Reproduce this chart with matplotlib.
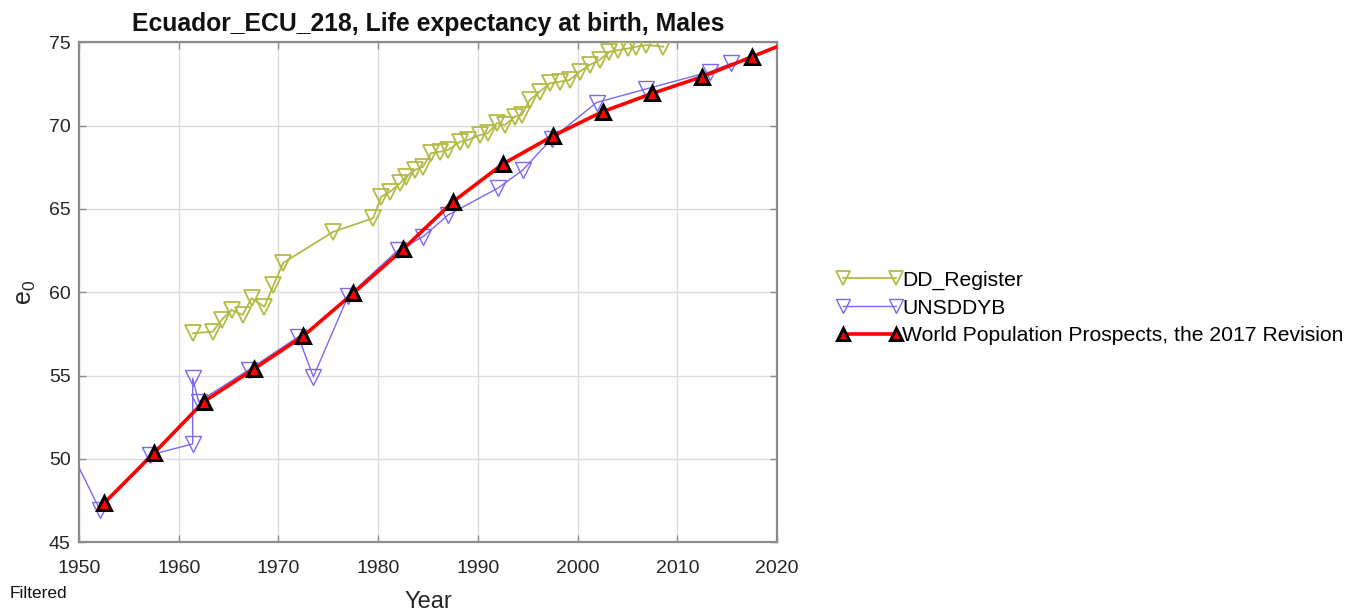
import matplotlib
matplotlib.use("Agg")
import matplotlib.pyplot as plt
import numpy as np

plt.rcParams['font.family'] = ['Liberation Sans', 'DejaVu Sans']

# ---- data ----
wpp_years = [1952.5, 1957.5, 1962.5, 1967.5, 1972.5, 1977.5, 1982.5, 1987.5,
             1992.5, 1997.5, 2002.5, 2007.5, 2012.5, 2017.5, 2022.5]
wpp_e0 = [47.34, 50.34, 53.43, 55.38, 57.38, 59.94, 62.58, 65.43,
          67.69, 69.37, 70.83, 71.93, 72.93, 74.13, 75.33]

uns_years = [1948.5, 1952.1, 1957.1, 1961.4, 1961.4, 1962.0, 1967.0, 1972.0,
             1973.5, 1977.0, 1982.0, 1984.5, 1987.0, 1992.0, 1994.5, 1997.4,
             2001.9, 2006.9, 2013.3, 2015.4]
uns_e0 = [51.3, 46.94, 50.24, 50.9, 54.84, 53.43, 55.34, 57.33,
          54.93, 59.78, 62.53, 63.33, 64.63, 66.24, 67.33, 69.2,
          71.38, 72.2, 73.23, 73.73]

dd_years = [1961.4, 1963.4, 1964.3, 1965.3, 1966.4, 1967.3, 1968.6, 1969.5,
            1970.5, 1975.5, 1979.5, 1980.3, 1981.2, 1982.2, 1982.8, 1983.7,
            1984.5, 1985.3, 1986.2, 1987.0, 1988.2, 1989.0, 1990.2, 1991.0,
            1991.9, 1992.7, 1993.7, 1994.4, 1995.2, 1996.2, 1997.2, 1998.2,
            1999.2, 2000.2, 2001.2, 2002.2, 2003.2, 2004.1, 2005.1, 2005.9,
            2006.9, 2008.6]
dd_e0 = [57.54, 57.63, 58.34, 58.94, 58.64, 59.64, 59.13, 60.43,
         61.77, 63.63, 64.44, 65.73, 66.03, 66.54, 66.93, 67.34,
         67.53, 68.34, 68.43, 68.53, 69.03, 69.13, 69.43, 69.54,
         70.14, 70.03, 70.53, 70.63, 71.53, 72.03, 72.53, 72.63,
         72.73, 73.23, 73.63, 73.93, 74.43, 74.53, 74.63, 74.73,
         74.83, 74.73]

x_ticks = [1950, 1960, 1970, 1980, 1990, 2000, 2010, 2020]
y_ticks = [45, 50, 55, 60, 65, 70, 75]

labels = ['DD_Register', 'UNSDDYB', 'World Population Prospects, the 2017 Revision']
title = 'Ecuador_ECU_218, Life expectancy at birth, Males'

# ---- figure ----
W, H = 1364, 616
fig = plt.figure(figsize=(W / 100, H / 100), dpi=100)
ax = fig.add_axes([79 / W, 1 - 542.3 / H, (777 - 79) / W, (542.3 - 42.2) / H])

dd_col = '#b3bb45'
uns_col = '#7b68ee'

l1, = ax.plot(dd_years, dd_e0, color=dd_col, lw=1.3, marker='v', ms=12,
              mfc='none', mec=dd_col, mew=1.3, clip_on=True, zorder=3)
l2, = ax.plot(uns_years, uns_e0, color=uns_col, lw=1.0, marker='v', ms=12,
              mfc='none', mec=uns_col, mew=1.0, clip_on=True, zorder=4)
l3, = ax.plot(wpp_years, wpp_e0, color='#ff0000', lw=2.6, marker='^', ms=9.5,
              mfc='#ff0000', mec='black', mew=2.2, clip_on=True, zorder=5)

ax.set_xlim(1950, 2020)
ax.set_ylim(45, 75)
ax.set_xticks(x_ticks)
ax.set_yticks(y_ticks)
ax.grid(True, color='#dcdcdc', lw=1.0)
ax.set_axisbelow(True)
ax.tick_params(direction='in', top=True, right=True, length=5, width=1,
               labelsize=14, colors='#8c8c8c', labelcolor='#262626')
ax.tick_params(axis='x', pad=12.5)
ax.tick_params(axis='y', pad=6)
for s in ax.spines.values():
    s.set_color('#8c8c8c')
    s.set_linewidth(1.6)

ax.set_title(title, fontsize=17.8, fontweight='bold', pad=8.2, color='#111111')
ax.set_xlabel('Year', fontsize=17, color='#262626', labelpad=10)
ax.set_ylabel(r'$\mathregular{e_0}$', fontsize=18, color='#262626', labelpad=8)

fig.text(10 / W, 1 - 593 / H, 'Filtered', fontsize=12.5, ha='left', va='center',
         color='#111111')

leg = fig.legend([l1, l2, l3], labels, loc='center left',
                 bbox_to_anchor=(828 / W, 1 - 308 / H), frameon=False,
                 fontsize=15.2, numpoints=2, handlelength=3.1, markerscale=0.85,
                 handletextpad=0.0, labelspacing=0.42, borderaxespad=0)

fig.savefig('out.png', dpi=100)
